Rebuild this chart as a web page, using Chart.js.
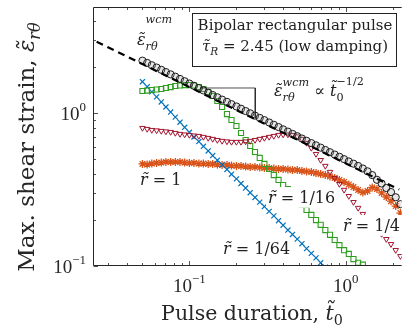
<!DOCTYPE html>
<html>
<head>
<meta charset="utf-8">
<script src="https://cdn.jsdelivr.net/npm/chart.js@4.4.0/dist/chart.umd.min.js"></script>
<style>
  html, body { margin: 0; padding: 0; background: #fff; }
  #wrap { width: 407px; height: 332px; }
</style>
</head>
<body>
<div id="wrap"><canvas id="c" width="407" height="332"></canvas></div>
<script>
// Pulse duration grid (dimensionless t0)
const pulseDuration = [0.0501,0.0537,0.0575,0.0617,0.0661,0.0708,0.0759,0.0813,0.0871,0.0933,
  0.1,0.107,0.115,0.123,0.132,0.141,0.151,0.162,0.174,0.186,
  0.2,0.214,0.229,0.245,0.263,0.282,0.302,0.324,0.347,0.372,
  0.398,0.427,0.457,0.49,0.525,0.562,0.603,0.646,0.692,0.741,
  0.794,0.851,0.912,0.977,1.047,1.122,1.202,1.288,1.38,1.479,
  1.585,1.698,1.82,1.95,2.09,2.24];

// Max. shear strain, worst-case (wcm) envelope
const strainWcm = [2.213,2.138,2.065,1.995,1.928,1.862,1.799,1.738,1.679,1.622,
  1.567,1.514,1.462,1.413,1.365,1.318,1.274,1.230,1.189,1.148,
  1.109,1.072,1.035,1.000,0.966,0.933,0.902,0.871,0.841,0.813,
  0.785,0.759,0.733,0.708,0.684,0.661,0.638,0.617,0.596,0.575,
  0.556,0.537,0.519,0.501,0.484,0.468,0.452,0.435,0.417,0.394,
  0.367,0.347,0.324,0.305,0.282,0.254];

// Max. shear strain at radius r = 1/64
const strainR64 = [1.610,1.492,1.382,1.281,1.187,1.100,1.019,0.944,0.875,0.810,
  0.751,0.700,0.653,0.608,0.567,0.529,0.493,0.460,0.429,0.399,
  0.372,0.347,0.324,0.302,0.281,0.262,0.245,0.228,0.213,0.198,
  0.185,0.172,0.161,0.150,0.140,0.130,0.121,0.113,0.105,0.0983];

// Max. shear strain at radius r = 1/16
const strainR16 = [1.400,1.410,1.421,1.432,1.443,1.465,1.486,1.510,1.521,1.531,
  1.531,1.521,1.486,1.443,1.379,1.298,1.204,1.100,0.989,0.904,
  0.826,0.743,0.668,0.611,0.558,0.510,0.466,0.432,0.394,0.366,
  0.339,0.319,0.296,0.271,0.251,0.233,0.216,0.200,0.186,0.172,
  0.160,0.148,0.137,0.127,0.120,0.111,0.105,0.102];

// Max. shear strain at radius r = 1/4
const strainR4 = [0.801,0.789,0.777,0.772,0.766,0.760,0.754,0.743,0.732,0.726,
  0.721,0.715,0.710,0.700,0.689,0.679,0.668,0.659,0.654,0.649,
  0.649,0.649,0.654,0.659,0.668,0.679,0.689,0.700,0.710,0.721,
  0.726,0.726,0.721,0.705,0.679,0.639,0.593,0.541,0.494,0.452,
  0.413,0.377,0.344,0.315,0.287,0.262,0.240,0.219,0.203,0.188,
  0.175,0.162,0.150,0.139,0.127,0.116];

// Max. shear strain at radius r = 1
const strainR1 = [0.466,0.462,0.469,0.473,0.476,0.480,0.480,0.480,0.480,0.476,
  0.473,0.473,0.469,0.469,0.466,0.466,0.462,0.459,0.459,0.455,
  0.452,0.452,0.448,0.445,0.445,0.442,0.438,0.438,0.435,0.432,
  0.432,0.429,0.425,0.425,0.419,0.416,0.413,0.406,0.400,0.394,
  0.386,0.377,0.366,0.355,0.342,0.329,0.315,0.303,0.310,0.327,
  0.319,0.301,0.283,0.266,0.247,0.222];

// t0^(-1/2) reference line and its slope marker
const scalingLineT = [0.0255, 2.2];
const scalingLineStrain = [2.943, 0.317];
const slopeMarkT = [0.117, 0.264, 0.264];
const slopeMarkStrain = [1.465, 1.465, 0.93];

// Axis ticks
const xMajorTicks = [0.1, 1];
const xMajorLabels = [['10', '\u22121'], ['10', '0']];
const xMinorTicks = [0.03,0.04,0.05,0.06,0.07,0.08,0.09,0.2,0.3,0.4,0.5,0.6,0.7,0.8,0.9,2];
const yMajorTicks = [0.1, 1];
const yMajorLabels = [['10', '\u22121'], ['10', '0']];
const yMinorTicks = [0.2,0.3,0.4,0.5,0.6,0.7,0.8,0.9,2,3,4];

const SERIF = '"DejaVu Serif", serif';
const NUMS = '"Liberation Serif", "DejaVu Serif", serif';
const INK = '#222';

function layoutRich(ctx, parts, size, family) {
  let cx = 0, prevStart = 0;
  const items = [];
  for (const p of parts) {
    const fs = size * (p.s || 1);
    const font = (p.it ? 'italic ' : '') + fs.toFixed(2) + 'px ' + family;
    ctx.font = font;
    const w = ctx.measureText(p.t).width;
    const start = p.stack ? prevStart : cx;
    items.push({ t: p.t, font, x: start, dy: (p.dy || 0) * size });
    cx = p.stack ? Math.max(cx, start + w) : start + w;
    prevStart = start;
  }
  return { items, width: cx };
}

function drawRich(ctx, parts, x, y, size, opts = {}) {
  const family = opts.family || SERIF;
  const L = layoutRich(ctx, parts, size, family);
  const x0 = opts.align === 'center' ? x - L.width / 2 : opts.align === 'right' ? x - L.width : x;
  if (opts.bg) {
    ctx.fillStyle = '#fff';
    ctx.fillRect(x0 - 2, y - size * 1.0, L.width + 4, size * 1.3);
  }
  ctx.fillStyle = opts.color || INK;
  ctx.textAlign = 'left';
  ctx.textBaseline = 'alphabetic';
  for (const it of L.items) {
    ctx.font = it.font;
    ctx.fillText(it.t, x0 + it.x, y + it.dy);
  }
  return L.width;
}

const pts = (xs, ys) => ys.map((y, i) => ({ x: xs[i], y }));

const frameAndText = {
  id: 'frameAndText',
  afterDraw(chart) {
    const { ctx, chartArea: a, scales } = chart;
    const xs = scales.x, ys = scales.y;
    ctx.save();

    // Curve labels (white backing hides the markers beneath them)
    const lbl = (txt, x, y) => drawRich(ctx, [{ t: 'r\u0303', it: true }, { t: ' = ' + txt }], x, y, 16, { bg: true });
    lbl('1', 140, 185);
    lbl('1/16', 268, 203);
    lbl('1/4', 343, 231);
    lbl('1/64', 223, 254);

    drawRich(ctx, [
      { t: '\u03b5\u0303', it: true },
      { t: 'r\u03b8', it: true, s: 0.7, dy: 0.3 },
      { t: 'wcm', it: true, s: 0.7, dy: -1.4, stack: true }
    ], 137, 45, 16);

    drawRich(ctx, [
      { t: '\u03b5\u0303', it: true },
      { t: 'r\u03b8', it: true, s: 0.7, dy: 0.3 },
      { t: 'wcm', it: true, s: 0.7, dy: -0.6, stack: true },
      { t: ' \u221d ' },
      { t: 't\u0303', it: true },
      { t: '0', s: 0.7, dy: 0.3 },
      { t: '\u22121/2', s: 0.7, dy: -0.7, stack: true }
    ], 274, 96, 16);

    // Info box
    ctx.fillStyle = '#fff';
    ctx.fillRect(192.5, 13.5, 204, 53);
    ctx.strokeStyle = INK;
    ctx.lineWidth = 1;
    ctx.strokeRect(192.5, 13.5, 204, 53);
    drawRich(ctx, [{ t: 'Bipolar rectangular pulse' }], 295, 30, 15, { align: 'center' });
    drawRich(ctx, [
      { t: '\u03c4\u0303', it: true },
      { t: 'R', it: true, s: 0.7, dy: 0.25 },
      { t: ' = 2.45 (low damping)' }
    ], 295, 51, 15, { align: 'center' });

    // Axes box (left, top, bottom)
    ctx.strokeStyle = '#262626';
    ctx.lineWidth = 1;
    const L = a.left + 0.5, T = a.top + 0.5, B = a.bottom - 0.5, R = a.right;
    ctx.beginPath();
    ctx.moveTo(R, T); ctx.lineTo(L, T); ctx.lineTo(L, B); ctx.lineTo(R, B);
    ctx.stroke();

    // Inward tick marks
    ctx.lineWidth = 0.8;
    ctx.beginPath();
    const xTick = (v, len) => {
      const px = Math.round(xs.getPixelForValue(v)) + 0.5;
      ctx.moveTo(px, B); ctx.lineTo(px, B - len);
      ctx.moveTo(px, T); ctx.lineTo(px, T + len);
    };
    const yTick = (v, len) => {
      const py = Math.round(ys.getPixelForValue(v)) + 0.5;
      ctx.moveTo(L, py); ctx.lineTo(L + len, py);
    };
    xMinorTicks.forEach(v => xTick(v, 2.5));
    xMajorTicks.forEach(v => xTick(v, 4.5));
    yMinorTicks.forEach(v => yTick(v, 2.5));
    yMajorTicks.forEach(v => yTick(v, 4.5));
    ctx.stroke();

    // Tick labels
    xMajorTicks.forEach((v, i) => {
      const [b, e] = xMajorLabels[i];
      drawRich(ctx, [{ t: b }, { t: e, s: 0.68, dy: -0.45 }],
        xs.getPixelForValue(v), 292, 19, { align: 'center', family: NUMS, color: '#262626' });
    });
    yMajorTicks.forEach((v, i) => {
      const [b, e] = yMajorLabels[i];
      drawRich(ctx, [{ t: b }, { t: e, s: 0.68, dy: -0.45 }],
        86, ys.getPixelForValue(v) + 6.5, 19, { align: 'right', family: NUMS, color: '#262626' });
    });

    // Axis titles
    drawRich(ctx, [
      { t: 'Pulse duration, ' },
      { t: 't\u0303', it: true },
      { t: '0', s: 0.7, dy: 0.25 }
    ], 252, 320, 20.5, { align: 'center', color: '#262626' });

    ctx.translate(34, 147);
    ctx.rotate(-Math.PI / 2);
    drawRich(ctx, [
      { t: 'Max. shear strain, ' },
      { t: '\u03b5\u0303', it: true },
      { t: 'r\u03b8', it: true, s: 0.7, dy: 0.25 }
    ], 0, 0, 23, { align: 'center', color: '#262626' });

    ctx.restore();
  }
};

new Chart(document.getElementById('c'), {
  type: 'scatter',
  data: {
    datasets: [
      { label: 'scaling', data: pts(scalingLineT, scalingLineStrain), showLine: true,
        borderColor: '#000', borderWidth: 2.2, borderDash: [7, 5], pointRadius: 0 },
      { label: 'slope', data: pts(slopeMarkT, slopeMarkStrain), showLine: true,
        borderColor: INK, borderWidth: 0.8, pointRadius: 0 },
      { label: 'wcm', data: pts(pulseDuration, strainWcm), pointStyle: 'circle',
        pointRadius: 3.6, borderColor: '#1a1a1a', borderWidth: 1,
        backgroundColor: 'rgba(160,160,160,0.25)' },
      { label: 'r=1/4', data: pts(pulseDuration, strainR4), pointStyle: 'triangle', pointRotation: 180,
        pointRadius: 3.2, borderColor: '#A2142F', borderWidth: 1, backgroundColor: 'rgba(0,0,0,0)' },
      { label: 'r=1/16', data: pts(pulseDuration, strainR16), pointStyle: 'rect',
        pointRadius: 3.6, borderColor: '#2E9E1F', borderWidth: 1.1, backgroundColor: 'rgba(0,0,0,0)' },
      { label: 'r=1/64', data: pts(pulseDuration, strainR64), pointStyle: 'crossRot',
        pointRadius: 3.6, borderColor: '#0072BD', borderWidth: 1.2 },
      { label: 'r=1', data: pts(pulseDuration, strainR1), pointStyle: 'star',
        pointRadius: 4, borderColor: '#D95319', borderWidth: 1.3 }
    ]
  },
  options: {
    responsive: false,
    devicePixelRatio: 1,
    animation: false,
    events: [],
    layout: { padding: { left: 93, top: 7, right: 0, bottom: 66 } },
    plugins: { legend: { display: false }, tooltip: { enabled: false }, title: { display: false } },
    scales: {
      x: { type: 'logarithmic', display: false, min: 0.02418, max: 2.283 },
      y: { type: 'logarithmic', display: false, min: 0.1, max: 4.97 }
    }
  },
  plugins: [frameAndText]
});
</script>
</body>
</html>
